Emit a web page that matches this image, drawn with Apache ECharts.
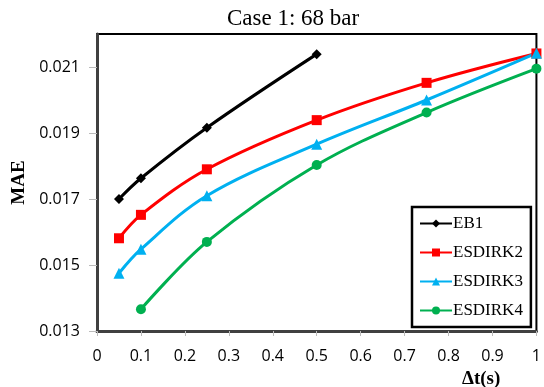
<!DOCTYPE html>
<html>
<head>
<meta charset="utf-8">
<script src="https://cdn.jsdelivr.net/npm/echarts@6/dist/echarts.min.js"></script>
<style>
  html, body { margin: 0; padding: 0; background: #fff; }
  #chart { width: 544px; height: 387px; }
</style>
</head>
<body>
<div id="chart"></div>
<script>
// time step (s) and MAE per scheme
const dtEB1 = [0.05, 0.1, 0.25, 0.5];
const maeEB1 = [0.0170, 0.01763, 0.01916, 0.02139];

const dtESDIRK = [0.05, 0.1, 0.25, 0.5, 0.75, 1];
const maeESDIRK2 = [0.01581, 0.01652, 0.0179, 0.01939, 0.02052, 0.02141];
const maeESDIRK3 = [0.01475, 0.01548, 0.0171, 0.01866, 0.0200, 0.02142];

const dtESDIRK4 = [0.1, 0.25, 0.5, 0.75, 1];
const maeESDIRK4 = [0.01366, 0.0157, 0.01803, 0.01962, 0.02095];

const pair = (xs, ys) => xs.map((x, i) => [x, ys[i]]);

const chart = echarts.init(document.getElementById('chart'));

const serif = 'Liberation Serif';
const sans = 'Open Sans';

function line(name, color, symbol, size, data) {
  return {
    name: name,
    type: 'line',
    smooth: 0.35,
    symbol: symbol,
    symbolSize: size,
    data: data,
    lineStyle: {color: color, width: 3},
    itemStyle: {color: color},
    emphasis: {disabled: true},
    z: 3
  };
}

chart.setOption({
  animation: false,
  title: [
    {
      text: 'Case 1: 68 bar',
      left: 227,
      top: 7,
      padding: 0,
      textStyle: {fontFamily: serif, fontSize: 23, fontWeight: 'normal', color: '#000'}
    },
    {
      text: 'Δt(s)',
      left: 462,
      top: 370,
      padding: 0,
      textStyle: {fontFamily: serif, fontSize: 19, fontWeight: 'bold', color: '#000'}
    }
  ],
  grid: {
    left: 97, right: 4, top: 34, bottom: 56,
    show: true, borderColor: '#000', borderWidth: 2
  },
  legend: {
    orient: 'vertical',
    left: 412,
    top: 207,
    padding: [8, 8, 8, 7],
    borderColor: '#000',
    borderWidth: 2.5,
    backgroundColor: '#fff',
    itemWidth: 32,
    itemHeight: 10,
    itemGap: 12,
    textStyle: {fontFamily: serif, fontSize: 17, color: '#000', padding: [0, 0, 0, -4]},
    data: ['EB1', 'ESDIRK2', 'ESDIRK3', 'ESDIRK4']
  },
  xAxis: {
    type: 'value',
    min: 0, max: 1, interval: 0.1,
    splitLine: {show: false},
    axisLine: {lineStyle: {color: '#404040', width: 3}},
    axisTick: {show: true, length: 5, lineStyle: {color: '#bbb'}},
    axisLabel: {
      margin: 17,
      fontFamily: sans, fontSize: 16, color: '#000',
      formatter: v => String(Math.round(v * 10) / 10)
    }
  },
  yAxis: {
    type: 'value',
    min: 0.013, max: 0.022, interval: 0.002,
    name: 'MAE',
    nameLocation: 'middle',
    nameRotate: 90,
    nameGap: 64,
    nameTextStyle: {fontFamily: serif, fontSize: 19, fontWeight: 'bold', color: '#000'},
    splitLine: {show: false},
    axisLine: {show: true, lineStyle: {color: '#404040', width: 3}},
    axisTick: {show: true, length: 8, lineStyle: {color: '#bbb'}},
    axisLabel: {
      margin: 17,
      showMaxLabel: false,
      fontFamily: sans, fontSize: 16, color: '#000',
      formatter: v => v.toFixed(3)
    }
  },
  series: [
    line('EB1', '#000000', 'diamond', 10, pair(dtEB1, maeEB1)),
    line('ESDIRK2', '#ff0000', 'rect', 10, pair(dtESDIRK, maeESDIRK2)),
    line('ESDIRK3', '#00b0f0', 'triangle', 11, pair(dtESDIRK, maeESDIRK3)),
    line('ESDIRK4', '#00b050', 'circle', 10, pair(dtESDIRK4, maeESDIRK4))
  ]
});
</script>
</body>
</html>
